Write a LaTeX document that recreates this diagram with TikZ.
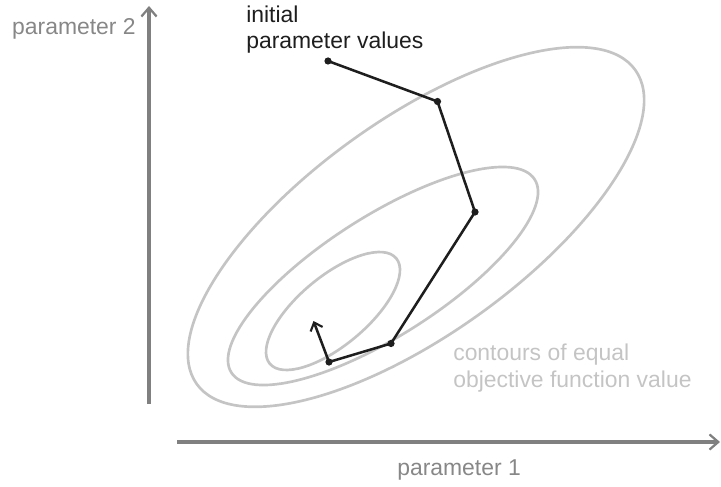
\documentclass[tikz,border=0pt]{standalone}
\usepackage{fontspec}
\setsansfont{Liberation Sans}
\usetikzlibrary{arrows.meta}
\definecolor{axisgray}{RGB}{128,128,128}
\definecolor{labelgray}{RGB}{135,135,135}
\definecolor{contourgray}{RGB}{196,196,196}
\definecolor{pathdark}{RGB}{30,30,30}

\begin{document}
\begin{tikzpicture}[x=0.025cm, y=-0.025cm,
  font=\sffamily\fontsize{16.3}{18.6}\selectfont,
  axis/.style={draw=axisgray, line width=2.2pt, -{Straight Barb[length=2.2mm, width=3.8mm, line width=1.6pt]}},
  contour/.style={draw=contourgray, line width=1.9pt},
  walk/.style={draw=pathdark, line width=1.8pt},
  iterate/.style={circle, fill=pathdark, inner sep=0pt, minimum size=0.18cm}]
\useasboundingbox (0,0) rectangle (721,486);
% axes
\coordinate (ybot) at (149,404);
\coordinate (ytop) at (149,6);
\coordinate (xleft) at (177,442);
\coordinate (xright) at (720,442);
\draw[axis] (ybot) -- (ytop);
\draw[axis] (xleft) -- (xright);
\node[text=labelgray, anchor=base east, inner sep=0pt] (ylab) at (136,35) {parameter 2};
\node[text=labelgray, anchor=base west, inner sep=0pt] (xlab) at (397,475) {parameter 1};
% contours
\draw[contour, shift={(416,227)}, rotate=35.6] (0,0) ellipse [x radius=269.7, y radius=107.8];
\draw[contour, shift={(383,276)}, rotate=32.5] (0,0) ellipse [x radius=179.8, y radius=59.9];
\draw[contour, shift={(333,311)}, rotate=39.8] (0,0) ellipse [x radius=82.3, y radius=34.5];
\node[text=contourgray, anchor=base west, inner sep=0pt, align=left] (clab) at (453,387) {contours of equal\\objective function value};
% search path
\node[iterate] (p1) at (328,61) {};
\node[iterate] (p2) at (437.5,101.5) {};
\node[iterate] (p3) at (475,212) {};
\node[iterate] (p4) at (391,343.5) {};
\node[iterate] (p5) at (329,362) {};
\coordinate (tip) at (313.5,321);
\draw[walk, line join=round] (p1.center) -- (p2.center) -- (p3.center) -- (p4.center) -- (p5.center);
\draw[walk, -{Straight Barb[length=1.8mm, width=3.2mm, line width=1.5pt]}] (p5.center) -- (tip);
\node[text=pathdark, anchor=base west, inner sep=0pt, align=left] (start) at (246,49) {initial\\parameter values};
\end{tikzpicture}
\end{document}
